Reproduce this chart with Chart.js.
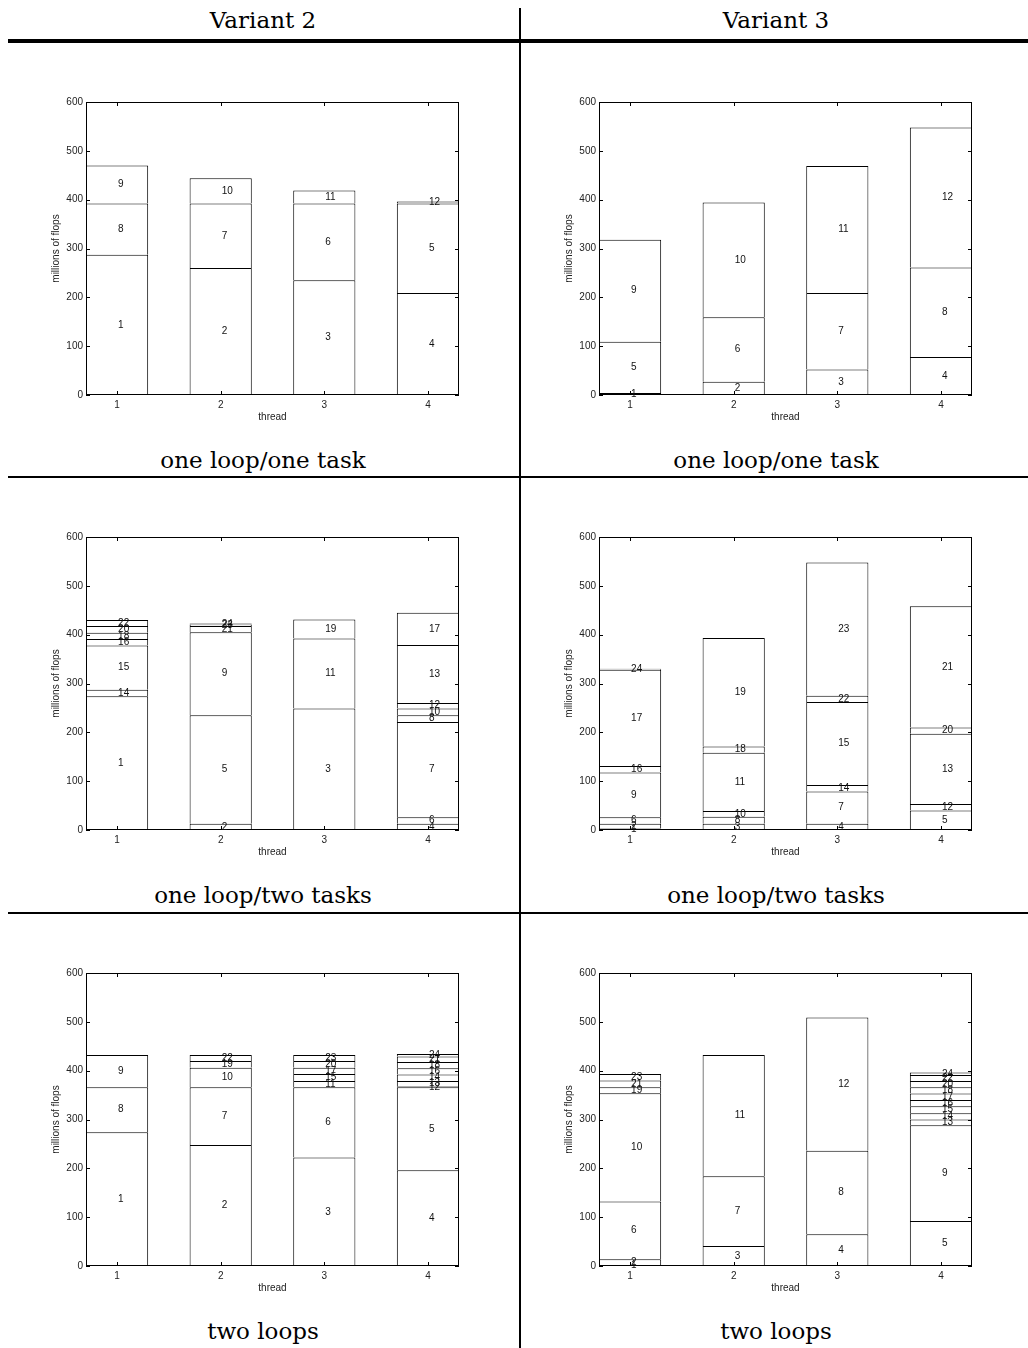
<!DOCTYPE html>
<html lang="en">
<head>
<meta charset="UTF-8" />
<title>Flops per thread</title>
<script src="https://cdn.jsdelivr.net/npm/chart.js"></script>
<style>
  body { margin: 0; background: #fff; }
  .page { position: relative; width: 1028px; height: 1348px; overflow: hidden; }
  .rule { position: absolute; background: #000; }
  .caption {
    position: absolute; width: 512px; text-align: center;
    font-family: "DejaVu Serif", serif; font-size: 23px; line-height: 26px; color: #000;
  }
  canvas { position: absolute; }
</style>
</head>
<body>
<div class="page">
  <div class="caption" style="left:7px; top:7px">Variant 2</div>
  <div class="caption" style="left:520px; top:7px">Variant 3</div>

  <div class="rule" style="left:8px; top:39px; width:1020px; height:4px"></div>
  <div class="rule" style="left:519px; top:8px; width:2px; height:1340px"></div>
  <div class="rule" style="left:8px; top:476px; width:1020px; height:2px"></div>
  <div class="rule" style="left:8px; top:912px; width:1020px; height:2px"></div>

  <canvas id="v2OneTask" width="440" height="340" style="left:30px; top:90px"></canvas>
  <canvas id="v3OneTask" width="440" height="340" style="left:543px; top:90px"></canvas>
  <canvas id="v2TwoTasks" width="440" height="340" style="left:30px; top:525px"></canvas>
  <canvas id="v3TwoTasks" width="440" height="340" style="left:543px; top:525px"></canvas>
  <canvas id="v2TwoLoops" width="440" height="340" style="left:30px; top:961px"></canvas>
  <canvas id="v3TwoLoops" width="440" height="340" style="left:543px; top:961px"></canvas>

  <div class="caption" style="left:7px; top:447px">one loop/one task</div>
  <div class="caption" style="left:520px; top:447px">one loop/one task</div>
  <div class="caption" style="left:7px; top:882px">one loop/two tasks</div>
  <div class="caption" style="left:520px; top:882px">one loop/two tasks</div>
  <div class="caption" style="left:7px; top:1318px">two loops</div>
  <div class="caption" style="left:520px; top:1318px">two loops</div>
</div>

<script>
// each task i (numbered from 1) ran on thread xxThread[i-1] and did xxFlops[i-1] million flops
const threads = [1, 2, 3, 4];
const yTicks = [0, 100, 200, 300, 400, 500, 600];

const v2OneTaskThread = [1, 2, 3, 4, 4, 3, 2, 1, 1, 2, 3, 4];
const v2OneTaskFlops = [287, 260, 235, 209, 183, 157, 132, 105, 78, 52, 27, 4];

const v3OneTaskThread = [1, 2, 3, 4, 1, 2, 3, 4, 1, 2, 3, 4];
const v3OneTaskFlops = [4, 27, 52, 78, 105, 132, 157, 183, 209, 235, 260, 287];

const v2TwoTasksThread = [1, 2, 3, 4, 2, 4, 4, 4, 2, 4, 3, 4, 4, 1, 1, 1, 4, 1, 3, 1, 2, 1, 2, 2];
const v2TwoTasksFlops = [274, 13, 249, 13, 222, 13, 195, 14, 170, 14, 143, 11, 119, 13, 91, 13, 66, 13, 39, 14, 13, 12, 3, 2];

const v3TwoTasksThread = [1, 1, 2, 3, 4, 1, 3, 2, 1, 2, 2, 4, 4, 3, 3, 1, 1, 2, 2, 4, 4, 3, 3, 1];
const v3TwoTasksFlops = [3, 10, 13, 13, 40, 13, 66, 14, 92, 12, 119, 13, 144, 13, 170, 13, 197, 13, 222, 13, 248, 13, 273, 2];

const v2TwoLoopsThread = [1, 2, 3, 4, 4, 3, 2, 1, 1, 2, 3, 4, 4, 4, 3, 4, 3, 4, 2, 3, 4, 2, 3, 4];
const v2TwoLoopsFlops = [274, 248, 222, 196, 170, 144, 118, 92, 66, 40, 13, 2, 11, 13, 14, 13, 13, 13, 14, 14, 11, 12, 12, 5];

const v3TwoLoopsThread = [1, 1, 2, 3, 4, 1, 2, 3, 4, 1, 2, 3, 4, 4, 4, 4, 4, 4, 1, 4, 1, 4, 1, 4];
const v3TwoLoopsFlops = [2, 12, 41, 65, 92, 118, 143, 171, 196, 222, 248, 273, 12, 13, 14, 13, 13, 13, 12, 13, 14, 12, 13, 5];

const sans = "'Liberation Sans', Arial, sans-serif";

// box around the plot with short inward ticks on all four sides
const frameTicks = {
  id: 'frameTicks',
  afterDatasetsDraw(chart) {
    const { ctx, chartArea: a, scales: { x, y } } = chart;
    const len = 4;
    ctx.save();
    ctx.strokeStyle = '#000';
    ctx.lineWidth = 1;
    ctx.beginPath();
    ctx.rect(a.left + 0.5, a.top + 0.5, a.right - a.left - 1, a.bottom - a.top - 1);
    yTicks.forEach(v => {
      const py = Math.round(y.getPixelForValue(v)) + 0.5;
      ctx.moveTo(a.left, py); ctx.lineTo(a.left + len, py);
      ctx.moveTo(a.right - len, py); ctx.lineTo(a.right, py);
    });
    threads.forEach(t => {
      const px = Math.round(x.getPixelForValue(t)) + 0.5;
      ctx.moveTo(px, a.bottom); ctx.lineTo(px, a.bottom - len);
      ctx.moveTo(px, a.top); ctx.lineTo(px, a.top + len);
    });
    ctx.stroke();
    ctx.restore();
  }
};

// task number written inside its segment
const taskLabels = {
  id: 'taskLabels',
  afterDatasetsDraw(chart) {
    const { ctx } = chart;
    ctx.save();
    ctx.font = '10px ' + sans;
    ctx.fillStyle = '#111';
    ctx.textAlign = 'left';
    ctx.textBaseline = 'middle';
    chart.data.datasets.forEach((ds, i) => {
      const el = chart.getDatasetMeta(i).data[0];
      if (!el) return;
      ctx.fillText(ds.label, el.x + 1, (el.y + el.base) / 2);
    });
    ctx.restore();
  }
};

function makeChart(id, threadOf, flops) {
  const datasets = flops.map((f, i) => ({
    label: String(i + 1),
    data: [{ x: threadOf[i], y: f }],
    backgroundColor: '#fff',
    borderColor: '#000',
    borderWidth: 1,
    barPercentage: 0.6,
    categoryPercentage: 1
  }));

  new Chart(document.getElementById(id), {
    type: 'bar',
    data: { datasets },
    options: {
      responsive: false,
      animation: false,
      devicePixelRatio: 1,
      layout: { padding: { top: 12, right: 11, left: 0, bottom: 0 } },
      plugins: { legend: { display: false }, tooltip: { enabled: false } },
      scales: {
        x: {
          type: 'linear',
          stacked: true,
          offset: false,
          min: 0.7,
          max: 4.3,
          afterBuildTicks: s => { s.ticks = threads.map(v => ({ value: v })); },
          afterFit: s => { s.height = 35; },
          grid: { display: false, drawTicks: false },
          border: { display: false },
          ticks: { padding: 4, color: '#222', font: { family: sans, size: 10 } },
          title: {
            display: true, text: 'thread', color: '#222',
            font: { family: sans, size: 10 }, padding: { top: 0, bottom: 7 }
          }
        },
        y: {
          stacked: true,
          min: 0,
          max: 600,
          afterBuildTicks: s => { s.ticks = yTicks.map(v => ({ value: v })); },
          afterFit: s => { s.width = 56; },
          grid: { display: false, drawTicks: false },
          border: { display: false },
          ticks: { padding: 3, color: '#222', font: { family: sans, size: 10 } },
          title: {
            display: true, text: 'millions of flops', color: '#222',
            font: { family: sans, size: 10 }, padding: { top: 20, bottom: 0 }
          }
        }
      }
    },
    plugins: [frameTicks, taskLabels]
  });
}

makeChart('v2OneTask', v2OneTaskThread, v2OneTaskFlops);
makeChart('v3OneTask', v3OneTaskThread, v3OneTaskFlops);
makeChart('v2TwoTasks', v2TwoTasksThread, v2TwoTasksFlops);
makeChart('v3TwoTasks', v3TwoTasksThread, v3TwoTasksFlops);
makeChart('v2TwoLoops', v2TwoLoopsThread, v2TwoLoopsFlops);
makeChart('v3TwoLoops', v3TwoLoopsThread, v3TwoLoopsFlops);
</script>
</body>
</html>
